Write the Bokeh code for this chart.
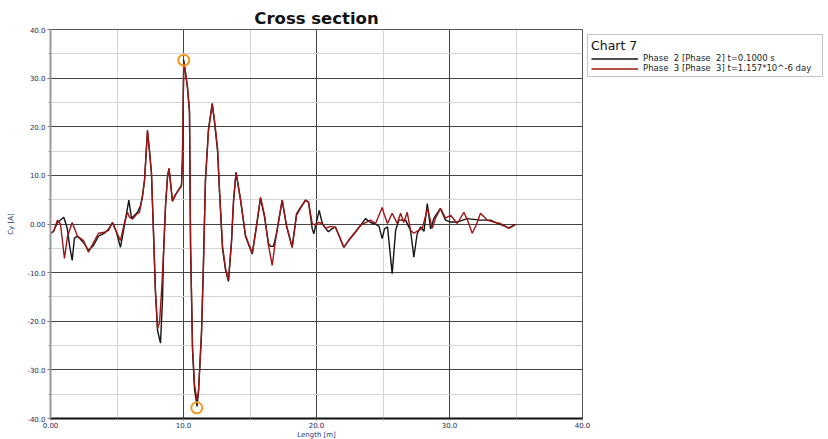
from bokeh.plotting import figure
from bokeh.models import (FixedTicker, Range1d, Legend, LegendItem)
from bokeh.embed import file_html
from bokeh.resources import INLINE

title_text = "Cross section"
legend_title = "Chart 7"
series_names = ["Phase  2 [Phase  2] t=0.1000 s",
                "Phase  3 [Phase  3] t=1.157*10^-6 day"]
x_label = "Length [m]"
y_label = "Cy [A]"

x_ticks = [0, 10, 20, 30, 40]
x_tick_labels = ["0.00", "10.0", "20.0", "30.0", "40.0"]
x_minor = [5, 15, 25, 35]
y_ticks = [-40, -30, -20, -10, 0, 10, 20, 30, 40]
y_tick_labels = ["-40.0", "-30.0", "-20.0", "-10.0", "0.00", "10.0", "20.0", "30.0", "40.0"]
y_minor = [-35, -25, -15, -5, 5, 15, 25, 35]

# Phase 2 (black)
p2_x = [0.00, 0.23, 0.53, 1.00, 1.26, 1.43, 1.63, 1.80, 2.03, 2.48, 2.86, 3.23, 3.61, 4.06, 4.36, 4.66,
        4.96, 5.26, 5.56, 5.89, 6.09, 6.32, 6.54, 6.77, 6.92, 7.07, 7.29, 7.44, 7.59, 7.74, 7.89, 8.05,
        8.27, 8.42, 8.50, 8.65, 8.80, 8.91, 9.02, 9.17, 9.40, 9.62, 9.85, 9.92, 10.02, 10.15, 10.30, 10.45,
        10.53, 10.68, 10.83, 11.02, 11.13, 11.35, 11.50, 11.65, 11.88, 12.16, 12.33, 12.56, 12.71, 12.93,
        13.16, 13.38, 13.61, 13.76, 13.95, 14.29, 14.66, 15.17, 15.49, 15.79, 16.09, 16.39, 16.55, 16.75,
        17.00, 17.42, 17.74, 18.17, 18.50, 18.80, 19.17, 19.40, 19.68, 19.80, 20.20, 20.45, 20.68, 20.90,
        21.20, 21.43, 21.65, 22.05, 22.41, 22.93, 23.31, 23.68, 24.06, 24.44, 24.70, 24.94, 25.11, 25.34,
        25.69, 25.95, 26.20, 26.70, 27.07, 27.32, 27.57, 27.83, 28.08, 28.33, 28.58, 28.83, 29.32, 29.70,
        30.08, 30.58, 31.33, 32.33, 33.08, 33.58, 34.46, 34.96]
p2_y = [-1.9, -1.5, 0.3, 1.4, -0.9, -4.4, -7.5, -2.9, -2.5, -3.8, -5.4, -4.4, -2.5, -1.9, -1.1, 0.3,
        -1.7, -4.8, -0.3, 4.9, 1.2, 1.8, 2.4, 3.8, 5.9, 9.0, 19.0, 15.0, 10.4, -1.5, -14.0, -21.9,
        -24.5, -15.7, -6.0, 3.8, 9.8, 11.3, 8.6, 4.7, 6.0, 7.0, 8.0, 13.5, 33.7, 31.0, 28.0, 23.0,
        -4.5, -26.0, -34.0, -37.5, -34.5, -22.5, -8.0, 9.0, 19.5, 24.8, 21.0, 15.0, 6.5, -5.0,
        -9.5, -11.8, -3.8, 4.5, 10.6, 5.0, -2.5, -6.2, -0.5, 5.3, 1.5, -4.0, -4.6, -4.6,
        -2.0, 4.9, -0.3, -4.8, 2.1, 3.4, 4.9, 4.5, -1.0, -2.0, 2.8, 0.0, -0.9, -1.6,
        -0.9, -0.6, -2.1, -4.8, -3.4, -1.6, -0.3, 1.1, 0.3, 0.0, -0.5, -3.0, -1.0, -0.6,
        -10.2, -1.3, 0.8, 0.8, -1.3, -6.8, -2.0, -0.6, -1.5, 4.2, -1.0, 1.2, 3.2, 0.8,
        0.4, 0.4, 1.1, 0.8, 0.8, 0.2, -0.8, -0.1]

# Phase 3 (red)
p3_x = [0.00, 0.23, 0.53, 0.75, 1.05, 1.28, 1.63, 2.03, 2.48, 2.86, 3.23, 3.61, 4.06, 4.36, 4.66, 5.04,
        5.26, 5.56, 5.79, 5.94, 6.17, 6.47, 6.69, 6.92, 7.07, 7.29, 7.44, 7.59, 7.74, 7.89, 8.05, 8.20,
        8.35, 8.50, 8.65, 8.80, 8.91, 9.02, 9.17, 9.40, 9.62, 9.85, 9.92, 10.02, 10.15, 10.30, 10.45, 10.53,
        10.68, 10.83, 11.02, 11.13, 11.35, 11.50, 11.65, 11.88, 12.16, 12.33, 12.56, 12.71, 12.93, 13.16,
        13.38, 13.61, 13.76, 13.95, 14.29, 14.66, 15.17, 15.49, 15.79, 16.09, 16.39, 16.67, 17.00, 17.42,
        17.74, 18.17, 18.50, 18.80, 19.17, 19.40, 19.68, 19.92, 20.15, 20.45, 20.68, 21.05, 21.43, 21.65,
        22.05, 22.41, 22.93, 23.31, 23.68, 24.06, 24.44, 24.94, 25.11, 25.34, 25.69, 26.07, 26.32, 26.56,
        26.82, 27.07, 27.32, 27.67, 27.95, 28.35, 28.70, 28.95, 29.32, 29.70, 30.08, 30.58, 31.08, 31.35,
        31.71, 32.03, 32.33, 32.83, 33.46, 33.83, 34.21, 34.46, 34.74, 34.96]
p3_y = [-1.9, -1.5, 0.8, 0.0, -7.1, -2.5, 0.3, -2.5, -3.4, -5.8, -3.8, -1.9, -1.7, -1.3, 0.3, -2.1,
        -3.4, 0.3, 2.4, 1.4, 1.0, 2.0, 2.4, 5.7, 9.0, 19.3, 15.2, 10.6, -1.3, -13.7, -21.5, -20.2,
        -13.7, -6.0, 3.8, 9.8, 11.5, 8.6, 4.7, 6.1, 6.9, 7.8, 13.1, 33.3, 31.2, 28.1, 23.4, -4.0,
        -25.4, -33.1, -36.3, -34.2, -22.9, -8.5, 9.0, 19.3, 24.6, 21.3, 15.6, 6.9, -4.4, -9.1,
        -11.6, -3.4, 4.9, 10.6, 4.9, -2.3, -6.0, -0.3, 5.5, 1.8, -4.4, -8.5, -1.7, 4.9,
        -0.3, -4.8, 1.8, 3.2, 4.9, 4.5, 0.1, -0.3, 0.3, 0.1, -0.9, -0.5, -0.7, -2.1,
        -4.8, -3.4, -1.7, -0.3, 0.3, 0.8, 0.1, 3.4, 1.8, 0.1, 2.2, 0.1, 2.2, 0.3,
        2.4, -1.3, -1.9, -1.3, -0.9, 3.2, -0.9, 1.2, 3.2, 1.2, 1.8, 0.1, 2.4, 0.8,
        -1.9, -0.1, 2.2, 0.8, 0.3, 0.1, -0.5, -0.9, -0.5, -0.1]

# extreme markers
marker_x = [10.02, 11.0]
marker_y = [33.7, -37.8]

FONT = "DejaVu Sans"
TICK_COLOR = "#2a2a5a"

p = figure(frame_width=532, frame_height=389, output_backend="svg", toolbar_location=None,
           x_range=Range1d(0, 40), y_range=Range1d(-40, 40),
           min_border_left=50, min_border_right=0, min_border_top=29, min_border_bottom=21,
           title=title_text)
p.title.align = "center"
p.title.text_font = FONT
p.title.text_font_size = "16.5px"
p.title.text_font_style = "bold"
p.title.text_color = "#111111"
p.title.standoff = 3

xt = FixedTicker(ticks=x_ticks, minor_ticks=x_minor)
yt = FixedTicker(ticks=y_ticks, minor_ticks=y_minor)
p.xaxis.ticker = xt
p.yaxis.ticker = yt
p.xgrid.ticker = xt
p.ygrid.ticker = yt
p.xaxis.major_label_overrides = {t: l for t, l in zip(x_ticks, x_tick_labels)}
p.yaxis.major_label_overrides = {t: l for t, l in zip(y_ticks, y_tick_labels)}

for ax in (p.xaxis[0], p.yaxis[0]):
    ax.major_label_text_font = FONT
    ax.major_label_text_font_size = "7px"
    ax.major_label_text_color = TICK_COLOR
    ax.axis_label_text_font = FONT
    ax.axis_label_text_font_size = "7px"
    ax.axis_label_text_font_style = "normal"
    ax.axis_label_text_color = "#2a3a8a"
    ax.major_tick_in = 0
    ax.major_tick_out = 3
    ax.minor_tick_in = 0
    ax.minor_tick_out = 2
    ax.major_tick_line_color = "#777777"
    ax.minor_tick_line_color = "#999999"
    ax.major_label_standoff = 2

p.xaxis.axis_label = x_label
p.yaxis.axis_label = y_label
p.xaxis.major_tick_out = 2
p.xaxis.major_label_standoff = 1
p.xaxis.axis_label_standoff = 0
p.yaxis.axis_label_standoff = 9
p.xaxis.axis_line_color = "#111111"
p.xaxis.axis_line_width = 2
p.yaxis.axis_line_color = "#999999"
p.yaxis.axis_line_width = 2

p.xgrid.grid_line_color = "#444444"
p.ygrid.grid_line_color = "#444444"
p.xgrid.grid_line_width = 1
p.ygrid.grid_line_width = 1
p.xgrid.minor_grid_line_color = "#d4d4d4"
p.ygrid.minor_grid_line_color = "#d4d4d4"

p.outline_line_color = "#555555"
p.outline_line_width = 1
p.background_fill_color = "white"
p.border_fill_color = "white"

r2 = p.line(p2_x, p2_y, line_color="#141414", line_width=1.4)
r3 = p.line(p3_x, p3_y, line_color="#a01515", line_width=1.4)
p.scatter(marker_x, marker_y, marker="circle", size=11, fill_color=None,
          line_color="#f29a25", line_width=2)

legend = Legend(items=[LegendItem(label=series_names[0], renderers=[r2]),
                       LegendItem(label=series_names[1], renderers=[r3])],
                location="top_left")
legend.title = legend_title
legend.title_text_font = FONT
legend.title_text_font_size = "12.5px"
legend.title_text_font_style = "normal"
legend.title_text_color = "#111111"
legend.title_standoff = 0
legend.label_text_font = FONT
legend.label_text_font_size = "8.5px"
legend.label_text_color = "#222222"
legend.label_height = 9
legend.glyph_height = 9
legend.glyph_width = 47
legend.label_standoff = 5
legend.spacing = 0
legend.padding = 3
legend.margin = 5
legend.border_line_color = "#888888"
legend.border_line_width = 1
legend.background_fill_color = "white"
legend.background_fill_alpha = 1.0
legend.label_width = 176
p.add_layout(legend, "right")

open("out.html", "w").write(file_html(p, INLINE))
